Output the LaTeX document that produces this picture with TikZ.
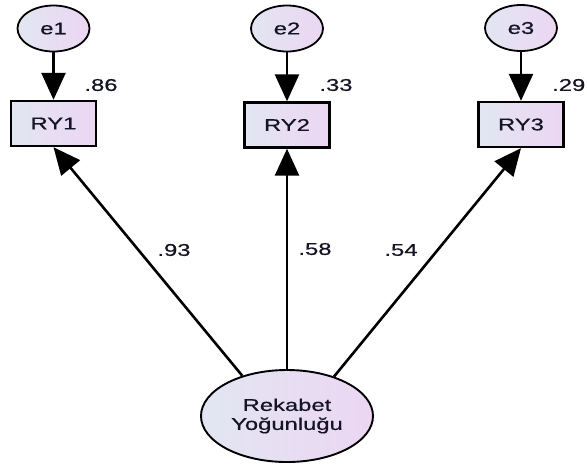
\documentclass[tikz,border=0pt]{standalone}
\usepackage{fontspec}
\setmainfont{Liberation Sans}[FakeStretch=1.4,FakeBold=0.6]
\usetikzlibrary{shapes.geometric,arrows.meta}
\definecolor{fillL}{RGB}{226,230,242}
\definecolor{fillR}{RGB}{236,214,242}
\definecolor{ink}{RGB}{20,20,35}
\begin{document}
\begin{tikzpicture}[x=1pt,y=-1pt,
  font=\fontsize{17}{19}\selectfont,
  errvar/.style={ellipse, draw=black, line width=1.8pt, minimum width=72pt,
    minimum height=46pt, inner sep=0pt, left color=fillL, right color=fillR, text=ink},
  obsvar/.style={rectangle, draw=black, line width=2.4pt, minimum width=85pt,
    minimum height=45pt, inner sep=0pt, left color=fillL, right color=fillR, text=ink},
  latvar/.style={ellipse, draw=black, line width=1.9pt, minimum width=172pt,
    minimum height=92pt, inner sep=0pt, align=center, left color=fillL,
    right color=fillR, text=ink},
  regpath/.style={line width=2.6pt, draw=black, -{Triangle[length=27pt,width=24pt]}},
  coef/.style={text=ink, inner sep=0pt}]
\useasboundingbox (0,0) rectangle (587,467);

% error terms
\node[errvar] (e1) at (53.5,28.5) {e1};
\node[errvar] (e2) at (287,28.5) {e2};
\node[errvar] (e3) at (521,28) {e3};

% observed indicators
\node[obsvar] (ry1) at (53.5,123.5) {RY1};
\node[obsvar] (ry2) at (287,125) {RY2};
\node[obsvar] (ry3) at (521,124.5) {RY3};

% latent factor
\node[latvar] (lat) at (287,416) {Rekabet\\Yoğunluğu};

% error paths
\draw[regpath] (e1) -- (ry1);
\draw[regpath] (e2) -- (ry2);
\draw[regpath] (e3) -- (ry3);

% factor loadings
\draw[regpath] (lat.138.6) -- (ry1.south);
\draw[regpath] (lat.north) -- (ry2.south);
\draw[regpath] (lat.40.2) -- (ry3.south);

% squared multiple correlations
\node[coef] (r1) at (101,85) {.86};
\node[coef] (r2) at (336,85) {.33};
\node[coef, anchor=west] (r3) at (552,85) {.29};

% standardized loadings
\node[coef] (l1) at (174,250) {.93};
\node[coef] (l2) at (315,249) {.58};
\node[coef] (l3) at (401,250) {.54};
\end{tikzpicture}
\end{document}
